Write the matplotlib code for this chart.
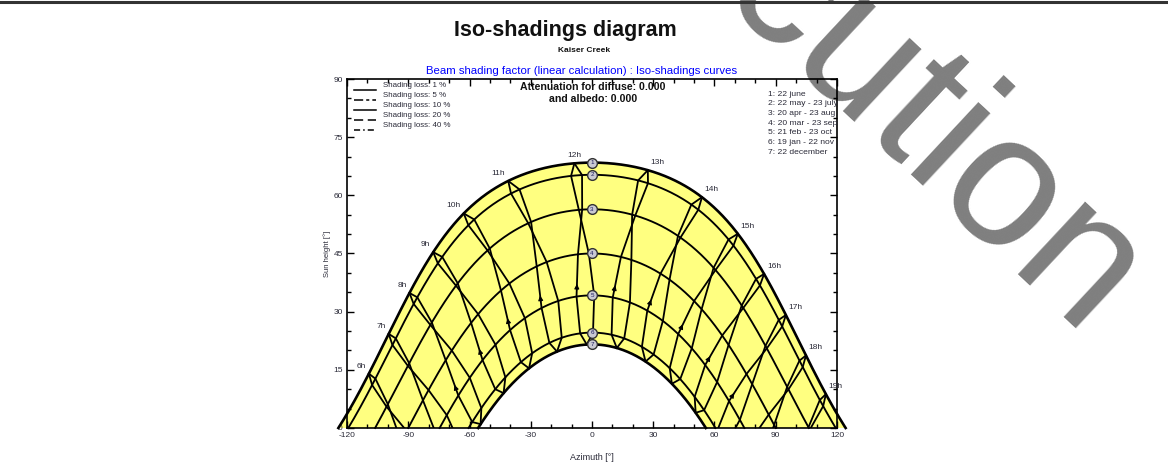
import numpy as np
import matplotlib
matplotlib.use('Agg')
import matplotlib.pyplot as plt
from matplotlib.lines import Line2D

plt.rcParams['font.family'] = ['Liberation Sans', 'DejaVu Sans']
plt.rcParams['axes.unicode_minus'] = False

# Sitio y hora legal
latitud = 45.0          # grados norte
desfase_min = 12.0      # mediodia legal - mediodia solar (min)

# Fechas de referencia: declinacion [deg] y ecuacion del tiempo [min]
fechas = ['1: 22 june', '2: 22 may - 23 july', '3: 20 apr - 23 aug',
          '4: 20 mar - 23 sep', '5: 21 feb - 23 oct', '6: 19 jan - 22 nov',
          '7: 22 december']
declinacion = [23.44, 20.3, 11.4, 0.0, -10.8, -20.4, -23.44]
eot_ene_jun = [-1.9, 3.3, 1.1, -7.5, -13.6, -10.6, 1.6]
eot_jul_dic = [-1.9, -6.4, -2.6, 7.6, 15.6, 13.9, 1.6]

horas = [6, 7, 8, 9, 10, 11, 12, 13, 14, 15, 16, 17, 18, 19]

perdidas = ['Shading loss: 1 %', 'Shading loss: 5 %', 'Shading loss: 10 %',
            'Shading loss: 20 %', 'Shading loss: 40 %']
estilos = ['-', (0, (6, 2, 2, 2)), '-', (0, (6, 3)), (0, (4, 2, 1, 2))]

amarillo = '#ffff80'
gris_txt = '#2a2a38'


def posicion_sol(dec, H):
    # azimut desde el sur (oeste positivo) y altura, en grados
    lat = np.radians(latitud)
    d = np.radians(dec)
    h = np.radians(H)
    sin_h = np.sin(lat) * np.sin(d) + np.cos(lat) * np.cos(d) * np.cos(h)
    alt = np.degrees(np.arcsin(sin_h))
    az = np.degrees(np.arctan2(np.sin(h), np.cos(h) * np.sin(lat) - np.tan(d) * np.cos(lat)))
    return az, alt


def trayectoria(dec):
    H0 = np.degrees(np.arccos(-np.tan(np.radians(latitud)) * np.tan(np.radians(dec))))
    H = np.linspace(-H0, H0, 500)
    return posicion_sol(dec, H)


fig = plt.figure(figsize=(11.68, 4.70), dpi=100)
fig.add_artist(Line2D([0, 1], [0.9950, 0.9950], color='#333333', lw=2.2))

ax = fig.add_axes([0.2971, 0.0894, 0.4195, 0.7425])
ax.patch.set_alpha(0)
ax.set_xlim(-120, 120)
ax.set_ylim(0, 90)

# zona entre el solsticio de verano y el de invierno
az_v, alt_v = trayectoria(declinacion[0])
az_i, alt_i = trayectoria(declinacion[-1])
ax.fill(np.concatenate([az_v, az_i[::-1]]), np.concatenate([alt_v, alt_i[::-1]]),
        color=amarillo, lw=0, clip_on=False, zorder=1)

# curvas de fecha
for i, dec in enumerate(declinacion):
    az, alt = trayectoria(dec)
    lw = 1.9 if i in (0, len(declinacion) - 1) else 1.35
    ax.plot(az, alt, color='black', lw=lw, clip_on=False, zorder=3)

# lineas horarias (hora legal), una rama por semestre
for hora in horas:
    for eot, flecha in ((eot_ene_jun, True), (eot_jul_dic, False)):
        t_solar = hora - desfase_min / 60 + np.array(eot) / 60
        H = 15 * (t_solar - 12)
        az, alt = posicion_sol(np.array(declinacion), H)
        ax.plot(az, alt, color='black', lw=1.3, zorder=3)
        if flecha and alt[4] > 1 and alt[3] > 1:
            x0 = az[4] + 0.15 * (az[3] - az[4])
            y0 = alt[4] + 0.15 * (alt[3] - alt[4])
            x1 = az[4] + 0.30 * (az[3] - az[4])
            y1 = alt[4] + 0.30 * (alt[3] - alt[4])
            ax.annotate('', xy=(x1, y1), xytext=(x0, y0),
                        arrowprops=dict(arrowstyle='-|>', color='black', lw=0.8,
                                        mutation_scale=7, shrinkA=0, shrinkB=0),
                        zorder=4)
    # etiqueta junto al punto del 22 de junio
    t0 = hora - desfase_min / 60 + eot_ene_jun[0] / 60
    az0, alt0 = posicion_sol(declinacion[0], 15 * (t0 - 12))
    if hora < 12:
        dx, ha = -2, 'right'
    elif hora == 12:
        dx, ha = 0, 'center'
    else:
        dx, ha = 2, 'left'
    ax.annotate(f'{hora}h', (az0, alt0), xytext=(dx, 3), textcoords='offset points',
                ha=ha, va='bottom', fontsize=6, color=gris_txt, zorder=5)

# marcas numeradas al mediodia solar
for i, dec in enumerate(declinacion):
    alt_mediodia = 90 - latitud + dec
    ax.plot(0, alt_mediodia, 'o', ms=7, mfc='#c9c9d2', mec='#333333', mew=1.0, zorder=6)
    ax.text(0, alt_mediodia, str(i + 1), ha='center', va='center', fontsize=4.5,
            color='#1a1a60', zorder=7)

# leyenda de perdidas
for k, (txt, ls) in enumerate(zip(perdidas, estilos)):
    yl = 0.968 - k * 0.0285
    ax.plot([0.0143, 0.059], [yl, yl], transform=ax.transAxes, color='black',
            lw=1.1, ls=ls, clip_on=False, zorder=5)
    ax.text(0.073, yl + 0.012, txt, transform=ax.transAxes, fontsize=5.7,
            color=gris_txt, va='center')

ax.text(0.502, 0.977, 'Attenuation for diffuse: 0.000', transform=ax.transAxes,
        ha='center', va='center', fontsize=7.6, fontweight='bold', color='#111111')
ax.text(0.502, 0.943, 'and albedo: 0.000', transform=ax.transAxes,
        ha='center', va='center', fontsize=7.6, fontweight='bold', color='#111111')

for k, txt in enumerate(fechas):
    ax.text(0.859, 0.957 - k * 0.0277, txt, transform=ax.transAxes, fontsize=6.1,
            color=gris_txt, va='center')

# ejes
ax.set_xticks(np.arange(-120, 121, 30))
ax.set_xticks(np.arange(-120, 121, 10), minor=True)
ax.set_yticks(np.arange(0, 91, 15))
ax.set_yticks(np.arange(0, 91, 5), minor=True)
ax.tick_params(which='both', direction='in', top=True, right=True, labelsize=6,
               labelcolor=gris_txt, width=1.0, pad=3)
ax.tick_params(which='major', length=5)
ax.tick_params(which='minor', length=3)
for s in ax.spines.values():
    s.set_linewidth(1.2)
ax.set_xlabel('Azimuth [°]', fontsize=6.5, color=gris_txt, labelpad=10)
ax.set_ylabel('Sun height [°]', fontsize=5.5, color=gris_txt, labelpad=1.5)

fig.text(0.4837, 0.936, 'Iso-shadings diagram', ha='center', va='center',
         fontsize=15.5, fontweight='bold', color='#111111')
fig.text(0.5004, 0.893, 'Kaiser Creek', ha='center', va='center',
         fontsize=6, fontweight='bold', color='#111111')
fig.text(0.4983, 0.848, 'Beam shading factor (linear calculation) : Iso-shadings curves',
         ha='center', va='center', fontsize=8.2, color='#0000ff')

# marca de agua, detras del grafico
fig.text(0.925, 0.262, 'Execution', rotation=-43, rotation_mode='anchor',
         ha='right', va='baseline', fontsize=135, color='#7f7f7f', zorder=-1)

fig.savefig('out.png', dpi=100)
